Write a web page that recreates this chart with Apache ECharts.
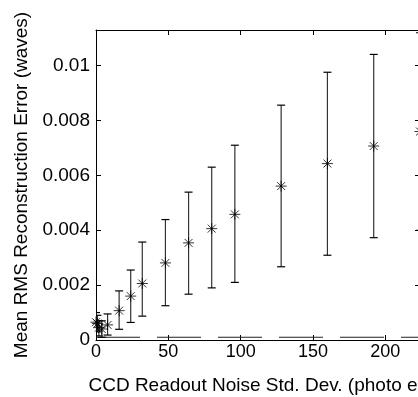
<!DOCTYPE html>
<html>
<head>
<meta charset="utf-8">
<script src="https://cdn.jsdelivr.net/npm/echarts@6/dist/echarts.min.js"></script>
<style>html,body{margin:0;padding:0;background:#fff;}#c{width:418px;height:397px;}</style>
</head>
<body>
<div id="c"></div>
<script>
// Data
const noiseStd = [0, 1, 2, 4, 8, 16, 24, 32, 48, 64, 80, 96, 128, 160, 192, 224];
const meanErr  = [0.00065, 0.0006, 0.00045, 0.0004, 0.00055, 0.00107, 0.0016, 0.00206, 0.00281, 0.00354, 0.00406, 0.00458, 0.00561, 0.00643, 0.00707, 0.0076];
const errLow   = [0.00035, 0.0003, 0.00015, 0.0001, 0.00018, 0.00039, 0.00064, 0.00087, 0.00125, 0.00167, 0.0019, 0.0021, 0.00267, 0.00309, 0.00373, 0.0040];
const errHigh  = [0.001, 0.0009, 0.0007, 0.0007, 0.00095, 0.00179, 0.00255, 0.00357, 0.00439, 0.00539, 0.0063, 0.0071, 0.00856, 0.00976, 0.01041, 0.0112];
const refLineX = [0, 224];
const refLineY = [0.0001, 0.0001];
const xTicks = [0, 50, 100, 150, 200];
const yTicks = [0, 0.002, 0.004, 0.006, 0.008, 0.01];

const FONT = 'Liberation Sans, Arial, sans-serif';
const chart = echarts.init(document.getElementById('c'), null, {renderer: 'canvas'});

const starPath = 'path://M0,-5L0,5M-5,0L5,0M-3.6,-3.6L3.6,3.6M-3.6,3.6L3.6,-3.6';

const axisCommon = {
  min: 0,
  axisLine: {show: true, onZero: false, lineStyle: {color: '#000', width: 1}},
  axisTick: {show: true, inside: true, length: 5, lineStyle: {color: '#000'}},
  splitLine: {show: false}
};

chart.setOption({
  animation: false,
  backgroundColor: '#fff',
  grid: {left: 96, right: -2, top: 30, bottom: 57, containLabel: false, outerBoundsMode: 'none'},
  xAxis: [
    Object.assign({}, axisCommon, {
      type: 'value', position: 'bottom', max: 224, interval: 50,
      axisLabel: {show: true, color: '#000', fontFamily: FONT, fontSize: 18, margin: 3, showMaxLabel: false,
        formatter: v => xTicks.includes(v) ? String(v) : ''},
      name: 'CCD Readout Noise Std. Dev. (photo e{sup|-})',
      nameLocation: 'middle', nameGap: 36,
      nameTextStyle: {color: '#000', fontFamily: FONT, fontSize: 19,
        rich: {sup: {fontSize: 11, fontFamily: FONT, color: '#000', verticalAlign: 'top', padding: [0, 0, 9, 0]}}}
    }),
    Object.assign({}, axisCommon, {
      type: 'value', position: 'top', max: 224, interval: 50,
      axisLabel: {show: false}
    })
  ],
  yAxis: [
    Object.assign({}, axisCommon, {
      type: 'value', position: 'left', max: 0.0113, interval: 0.002,
      axisLabel: {show: true, color: '#000', fontFamily: FONT, fontSize: 19, margin: 6, showMaxLabel: false,
        formatter: v => {
          const m = yTicks.find(t => Math.abs(t - v) < 1e-9);
          return m === undefined ? '' : String(m);
        }},
      name: 'Mean RMS Reconstruction Error (waves)',
      nameLocation: 'middle', nameGap: 59, nameRotate: 90,
      nameTextStyle: {color: '#000', fontFamily: FONT, fontSize: 19}
    }),
    Object.assign({}, axisCommon, {
      type: 'value', position: 'right', max: 0.0113, interval: 0.002,
      axisLabel: {show: false}
    })
  ],
  series: [
    {
      type: 'line',
      data: refLineX.map((x, i) => [x, refLineY[i]]),
      symbol: 'none',
      lineStyle: {color: '#222', width: 1, type: [44, 17]},
      silent: true,
      z: 1
    },
    {
      type: 'custom',
      data: noiseStd.map((x, i) => [x, errLow[i], errHigh[i]]),
      clip: true,
      renderItem: function (params, api) {
        const x = api.value(0);
        const lo = api.coord([x, api.value(1)]);
        const hi = api.coord([x, api.value(2)]);
        const w = 4;
        const st = {stroke: '#333', lineWidth: 1.2};
        return {
          type: 'group',
          children: [
            {type: 'line', shape: {x1: lo[0], y1: lo[1], x2: hi[0], y2: hi[1]}, style: st},
            {type: 'line', shape: {x1: lo[0] - w, y1: lo[1], x2: lo[0] + w, y2: lo[1]}, style: {stroke: '#000', lineWidth: 1.2}},
            {type: 'line', shape: {x1: hi[0] - w, y1: hi[1], x2: hi[0] + w, y2: hi[1]}, style: {stroke: '#000', lineWidth: 1.2}}
          ]
        };
      },
      z: 2
    },
    {
      type: 'scatter',
      data: noiseStd.map((x, i) => [x, meanErr[i]]),
      symbol: starPath,
      symbolSize: 11,
      itemStyle: {color: 'none', borderColor: '#000', borderWidth: 1},
      z: 3
    }
  ]
});
</script>
</body>
</html>
